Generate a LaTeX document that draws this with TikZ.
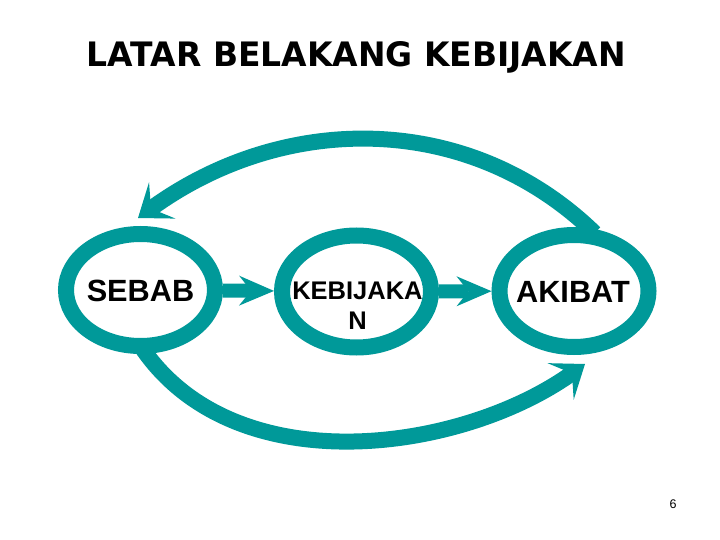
\documentclass[tikz,border=0pt]{standalone}
\usepackage{fontspec}
\setmainfont{Liberation Sans}
\newfontfamily\titlefont{DejaVu Sans}
\usetikzlibrary{shapes.geometric,arrows.meta}
\definecolor{ringcol}{RGB}{0,153,153}
\tikzset{
  ring/.style={ellipse, draw=ringcol, line width=16pt, minimum width=149pt, minimum height=112pt, inner sep=0pt},
  bigtext/.style={font=\fontsize{30.7}{36}\selectfont\bfseries, inner sep=0pt},
  midtext/.style={font=\fontsize{25.5}{30}\selectfont\bfseries, align=center, inner sep=0pt},
  harrow/.style={draw=ringcol, line width=14pt, -{Stealth[length=35pt,width=30pt,inset=12pt,line width=0pt]}},
  carrow/.style={draw=ringcol, line width=16pt, shorten <=-7pt, -{Stealth[length=30pt,width=45pt,inset=14pt,line width=0pt]}}
}
\begin{document}
\begin{tikzpicture}[x=1pt,y=-1pt]
\useasboundingbox[fill=white] (0,0) rectangle (720,540);
% title
\node[anchor=base, inner sep=0pt] (title) at (356.5,67) {\resizebox{539pt}{25pt}{\titlefont\bfseries LATAR BELAKANG KEBIJAKAN}};
% rings
\node[ring] (s) at (140.5,290) {};
\node[ring] (k) at (356.5,291.5) {};
\node[ring] (a) at (574,291) {};
% labels
\node[bigtext] (stxt) at (140.5,291) {SEBAB};
\node[midtext] (ktxt) at (357.5,305.5) {KEBIJAKA\\N};
\node[bigtext] (atxt) at (573,291.5) {AKIBAT};
% straight arrows
\draw[harrow] (s) -- (k);
\draw[harrow] (k) -- (a);
% curved arrows
\coordinate (tiptop) at (138,218);
\coordinate (tipbot) at (585,364);
\draw[carrow] (a.76) .. controls (469,111) and (284,112) .. (tiptop);
\draw[carrow] (s.-85) .. controls (236,485) and (462,452) .. (tipbot);
% page number
\node[font=\fontsize{12.5}{14}\selectfont, inner sep=0pt] (pnum) at (673,504.5) {6};
\end{tikzpicture}
\end{document}
